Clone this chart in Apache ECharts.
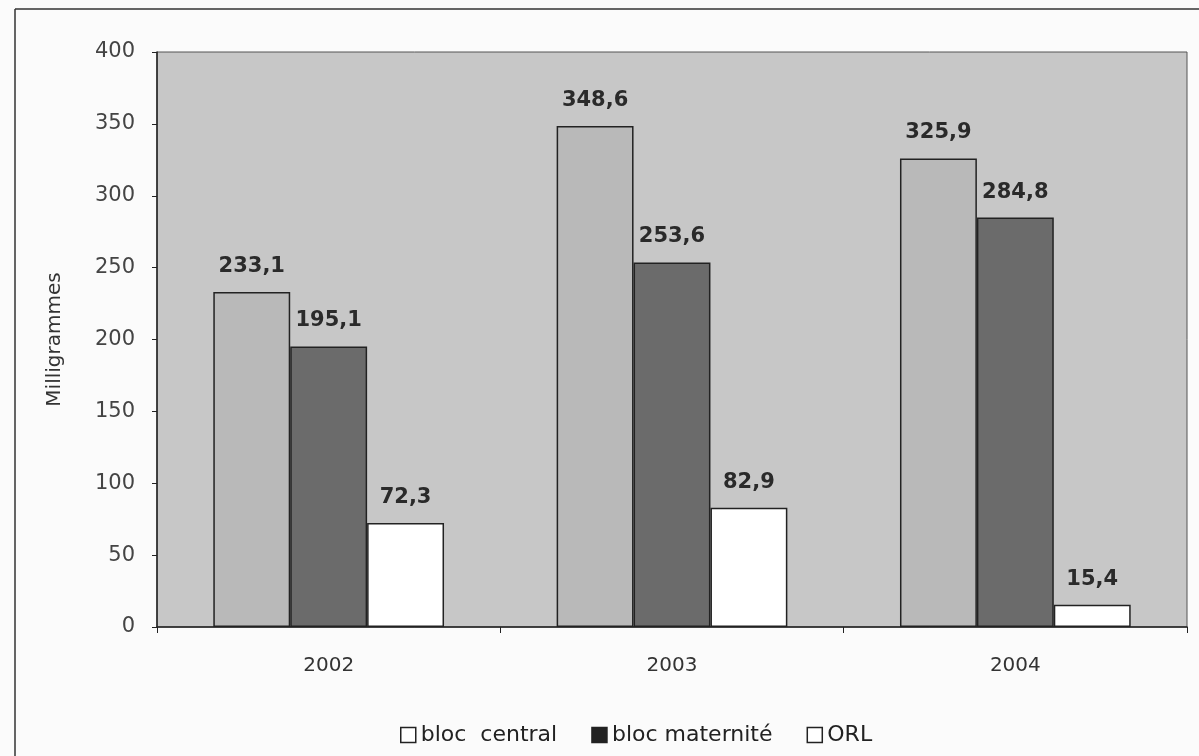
<!DOCTYPE html>
<html>
<head>
<meta charset="utf-8">
<script src="https://cdn.jsdelivr.net/npm/echarts@6/dist/echarts.min.js"></script>
<style>
  html, body { margin: 0; padding: 0; background: #fbfbfb; }
  #chart { width: 1199px; height: 756px; }
</style>
</head>
<body>
<div id="chart"></div>
<script>
// Years on the category axis
const years = ['2002', '2003', '2004'];
// Quantities per operating block (mg)
const blocCentral = [233.1, 348.6, 325.9];
const blocMaternite = [195.1, 253.6, 284.8];
const orl = [72.3, 82.9, 15.4];
const seriesNames = ['bloc  central', 'bloc maternité', 'ORL'];
const yTicks = { min: 0, max: 400, interval: 50 };

const font = '"DejaVu Sans", "Liberation Sans", Arial, sans-serif';
const fmt = p => String(p.value).replace('.', ',');

function barSeries(name, data, color) {
  return {
    name: name,
    type: 'bar',
    data: data,
    barWidth: '22.4%',
    barGap: '0%',
    itemStyle: { color: color, borderColor: '#222', borderWidth: 1.5 },
    label: {
      show: true,
      position: 'top',
      distance: 15,
      formatter: fmt,
      fontFamily: font,
      fontSize: 21,
      fontWeight: 'bold',
      color: '#2a2a2a'
    }
  };
}

const chart = echarts.init(document.getElementById('chart'));
chart.setOption({
  animation: false,
  backgroundColor: '#fbfbfb',
  graphic: [
    { type: 'line', shape: { x1: 15, y1: 9, x2: 1199, y2: 9 }, style: { stroke: '#333', lineWidth: 1.5 } },
    { type: 'line', shape: { x1: 15, y1: 9, x2: 15, y2: 756 }, style: { stroke: '#333', lineWidth: 1.5 } }
  ],
  grid: {
    left: 157, right: 12, top: 52, bottom: 129,
    show: true,
    backgroundColor: '#c7c7c7',
    borderColor: '#555',
    borderWidth: 1
  },
  legend: {
    bottom: 5,
    left: 395,
    itemWidth: 15,
    itemHeight: 15,
    itemGap: 34,
    textStyle: { fontFamily: font, fontSize: 22, color: '#222' },
    data: [
      { name: seriesNames[0], icon: 'rect', itemStyle: { color: '#ffffff', borderColor: '#222', borderWidth: 1.5 } },
      { name: seriesNames[1], icon: 'rect', itemStyle: { color: '#222', borderColor: '#222', borderWidth: 1.5 } },
      { name: seriesNames[2], icon: 'rect', itemStyle: { color: '#ffffff', borderColor: '#222', borderWidth: 1.5 } }
    ]
  },
  xAxis: {
    type: 'category',
    data: years,
    axisLine: { lineStyle: { color: '#222', width: 1.5 } },
    axisTick: { show: true, length: 6, lineStyle: { color: '#222' } },
    axisLabel: { fontFamily: font, fontSize: 20, color: '#333', margin: 29 }
  },
  yAxis: {
    type: 'value',
    min: yTicks.min, max: yTicks.max, interval: yTicks.interval,
    name: 'Milligrammes',
    nameLocation: 'middle',
    nameGap: 92,
    nameTextStyle: { fontFamily: font, fontSize: 20, color: '#333' },
    axisLine: { show: true, lineStyle: { color: '#222', width: 1.5 } },
    axisTick: { show: true, length: 5, lineStyle: { color: '#222' } },
    splitLine: { show: false },
    axisLabel: { fontFamily: font, fontSize: 21, color: '#444', margin: 22 }
  },
  series: [
    barSeries(seriesNames[0], blocCentral, '#b9b9b9'),
    barSeries(seriesNames[1], blocMaternite, '#6b6b6b'),
    barSeries(seriesNames[2], orl, '#ffffff')
  ]
});
</script>
</body>
</html>
